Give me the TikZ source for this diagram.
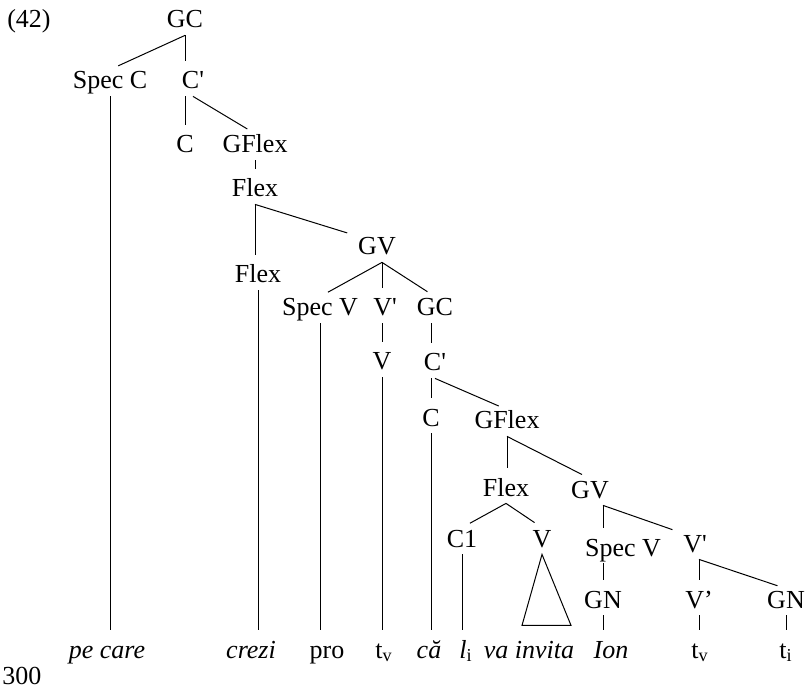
\documentclass[tikz,border=0pt]{standalone}
\usepackage{fontspec}
\setmainfont{Liberation Serif}
\usetikzlibrary{positioning}
\newcommand{\pr}{\textquotesingle}
\tikzset{
  cat/.style={
    font=\fontsize{13}{15}\selectfont,
    anchor=base,
    inner sep=1pt,
    text height=8.5pt,
    text depth=2.5pt
  },
  word/.style={
    cat,
    font=\fontsize{13}{15}\selectfont\itshape
  },
  branch/.style={line width=0.5pt, shorten >=4.5pt},
  roof/.style={line width=0.5pt}
}

\begin{document}
\begin{tikzpicture}[x=0.5pt,y=-0.5pt]
  \useasboundingbox (0,0) rectangle (806,688);

  \node[cat] (ex) at (29,28) {(42)};
  \node[cat] (gcA) at (185,28) {GC};
  \node[cat] (speccA) at (110,89) {Spec C};
  \node[cat] (cbarA) at (193,89) {C\pr};
  \node[cat] (cA) at (185,153) {C};
  \node[cat] (gflexA) at (255,153) {GFlex};
  \node[cat] (flexA) at (255,197) {Flex};
  \node[cat] (flexB) at (258,283) {Flex};
  \node[cat] (gvA) at (377,255) {GV};
  \node[cat] (specvA) at (320,316) {Spec V};
  \node[cat] (vbarA) at (385,316) {V\pr};
  \node[cat] (gcB) at (435,316) {GC};
  \node[cat] (vA) at (382,370) {V};
  \node[cat] (cbarB) at (435,371) {C\pr};
  \node[cat] (cB) at (431,426) {C};
  \node[cat] (gflexB) at (507,429) {GFlex};
  \node[cat] (flexC) at (506,496) {Flex};
  \node[cat] (gvB) at (590,498) {GV};
  \node[cat] (cone) at (462,547) {C1};
  \node[cat] (vB) at (542,547) {V};
  \node[cat] (specvB) at (623,556) {Spec V};
  \node[cat] (vbarB) at (695,552) {V\pr};
  \node[cat] (gnA) at (603,608) {GN};
  \node[cat] (vbarC) at (699,608) {V’};
  \node[cat] (gnB) at (786,608) {GN};

  \node[word] (pecare) at (107,658) {pe care};
  \node[word] (crezi) at (251,658) {crezi};
  \node[cat] (pro) at (327,658) {pro};
  \node[cat] (tvA) at (384,658) {t\textsubscript{v}};
  \node[word] (ca) at (429,658) {că};
  \node[cat] (li) at (466,658) {\textit{l}\textsubscript{i}};
  \node[word] (vainvita) at (529,658) {va invita};
  \node[word] (ion) at (611,658) {Ion};
  \node[cat] (tvB) at (700,658) {t\textsubscript{v}};
  \node[cat] (ti) at (786,658) {t\textsubscript{i}};
  \node[cat] (page) at (22,684) {300};

  \draw[branch] (gcA.south) -- (speccA.north);
  \draw[branch] (gcA.south) -- (gcA.south |- cbarA.north);
  \draw[branch] (speccA.south) -- (speccA.south |- pecare.north);
  \draw[branch] (cA.north |- cbarA.south) -- (cA.north);
  \draw[branch] (cbarA.south) -- (gflexA.north);
  \draw[branch] (gflexA.south) -- (flexA.north);
  \draw[branch] (flexA.south) -- (flexA.south |- flexB.north);
  \draw[branch] (flexA.south) -- (gvA.north west);
  \draw[branch] (flexB.south) -- (flexB.south |- crezi.north);
  \draw[branch] (vA.north |- gvA.south) -- (specvA.north);
  \draw[branch] (vA.north |- gvA.south) -- (vA.north |- vbarA.north);
  \draw[branch] (vA.north |- gvA.south) -- (gcB.north);
  \draw[branch] (specvA.south) -- (specvA.south |- pro.north);
  \draw[branch] (vA.north |- vbarA.south) -- (vA.north);
  \draw[branch] (vA.south) -- (vA.south |- tvA.north);
  \draw[branch] (cB.north |- gcB.south) -- (cB.north |- cbarB.north);
  \draw[branch] (cB.north |- cbarB.south) -- (cB.north);
  \draw[branch] (cbarB.south) -- (gflexB.north);
  \draw[branch] (cB.south) -- (cB.south |- ca.north);
  \draw[branch] (gflexB.south) -- (gflexB.south |- flexC.north);
  \draw[branch] (gflexB.south) -- (gvB.north);
  \draw[branch] (flexC.south) -- (cone.north);
  \draw[branch] (flexC.south) -- (vB.north);
  \draw[branch] (cone.south) -- (cone.south |- li.north);
  \draw[roof] (vB.south) -- ++(-20,71) -- ++(49,0) -- cycle;
  \draw[branch] (gnA.north |- gvB.south) -- (gnA.north |- specvB.north);
  \draw[branch] (gnA.north |- gvB.south) -- (vbarB.north west);
  \draw[branch] (gnA.north |- specvB.south) -- (gnA.north);
  \draw[branch] (gnA.south) -- (gnA.south |- ion.north);
  \draw[branch] (vbarC.north |- vbarB.south) -- (vbarC.north);
  \draw[branch] (vbarC.north |- vbarB.south) -- (gnB.north);
  \draw[branch] (vbarC.south) -- (vbarC.south |- tvB.north);
  \draw[branch] (gnB.south) -- (gnB.south |- ti.north);
\end{tikzpicture}
\end{document}
